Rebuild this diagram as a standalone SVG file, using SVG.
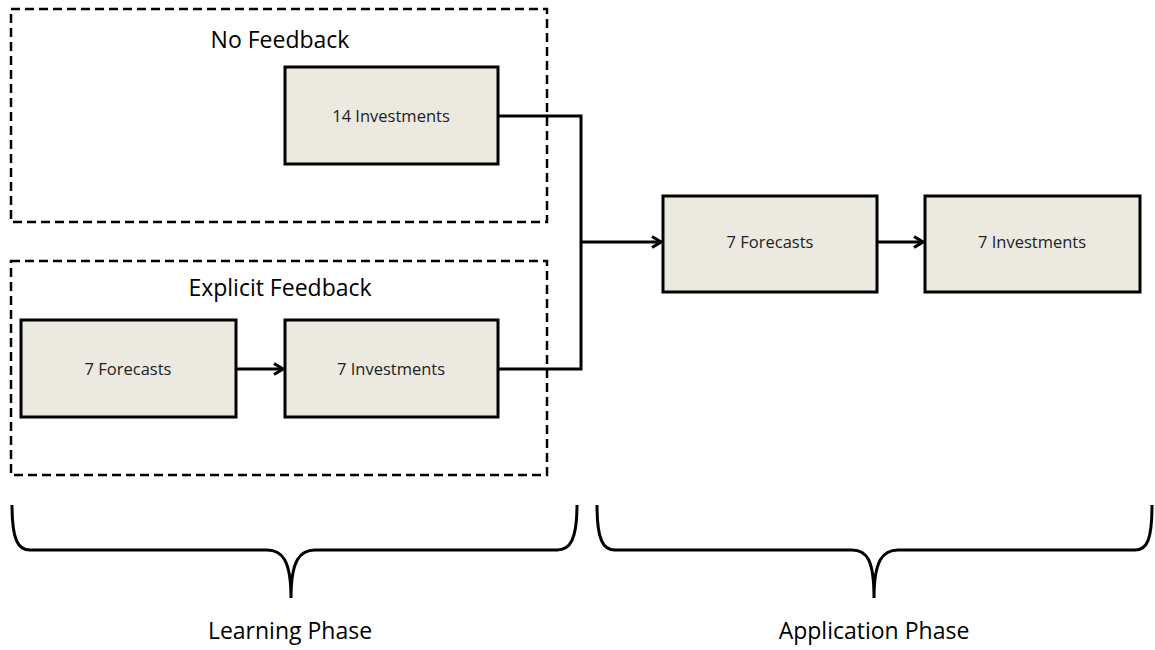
<svg xmlns="http://www.w3.org/2000/svg" width="1155" height="650" viewBox="0 0 1155 650">
<style>
.grp{fill:none;stroke:#000;stroke-width:2.5;stroke-dasharray:9,5}
.box{fill:#ECE9E0;stroke:#000;stroke-width:3}
.lbl{font-family:"Open Sans","Liberation Sans",sans-serif;font-size:16.5px;fill:#222;text-anchor:middle}
.title{font-family:"Open Sans","Liberation Sans",sans-serif;font-size:23px;fill:#000;text-anchor:middle}
.conn{fill:none;stroke:#000;stroke-width:3}
.brace{fill:none;stroke:#000;stroke-width:3}
</style>
<defs>
<marker id="arr" markerWidth="14" markerHeight="14" refX="11" refY="7" orient="auto" markerUnits="userSpaceOnUse">
<path d="M2,1.5 L11,7 L2,12.5" fill="none" stroke="#000" stroke-width="3.2"/>
</marker>
</defs>
<g id="group-no-feedback">
<rect class="grp" x="11" y="9" width="536" height="213"/>
<text class="title" x="280" y="48">No Feedback</text>
</g>
<g id="group-explicit-feedback">
<rect class="grp" x="11" y="261" width="536" height="214"/>
<text class="title" x="280" y="296">Explicit Feedback</text>
</g>
<g id="connectors">
<path class="conn" d="M498,116 H581 V369 H498"/>
<path class="conn" d="M581,242 H661" marker-end="url(#arr)"/>
<path class="conn" d="M236,369 H283" marker-end="url(#arr)"/>
<path class="conn" d="M877,242 H923" marker-end="url(#arr)"/>
</g>
<g id="n-14inv">
<rect class="box" x="285" y="67" width="213" height="97"/>
<text class="lbl" x="391" y="122">14 Investments</text>
</g>
<g id="n-ef-forecasts">
<rect class="box" x="21" y="320" width="215" height="97"/>
<text class="lbl" x="128" y="375">7 Forecasts</text>
</g>
<g id="n-ef-investments">
<rect class="box" x="285" y="320" width="213" height="97"/>
<text class="lbl" x="391" y="375">7 Investments</text>
</g>
<g id="n-app-forecasts">
<rect class="box" x="663" y="196" width="214" height="96"/>
<text class="lbl" x="770" y="248">7 Forecasts</text>
</g>
<g id="n-app-investments">
<rect class="box" x="925" y="196" width="215" height="96"/>
<text class="lbl" x="1032" y="248">7 Investments</text>
</g>
<g id="brace-learning">
<path class="brace" d="M12,505 C12,540 18,550 30,550 L267,550 C282,550 291,560 291,598 C291,560 300,550 315,550 L557,550 C570,550 577,540 577,505"/>
<text class="title" x="290" y="639">Learning Phase</text>
</g>
<g id="brace-application">
<path class="brace" d="M597,505 C597,540 603,550 615,550 L852,550 C867,550 874,560 874,598 C874,560 883,550 898,550 L1135,550 C1147,550 1152,540 1152,505"/>
<text class="title" x="874" y="639">Application Phase</text>
</g>
</svg>
